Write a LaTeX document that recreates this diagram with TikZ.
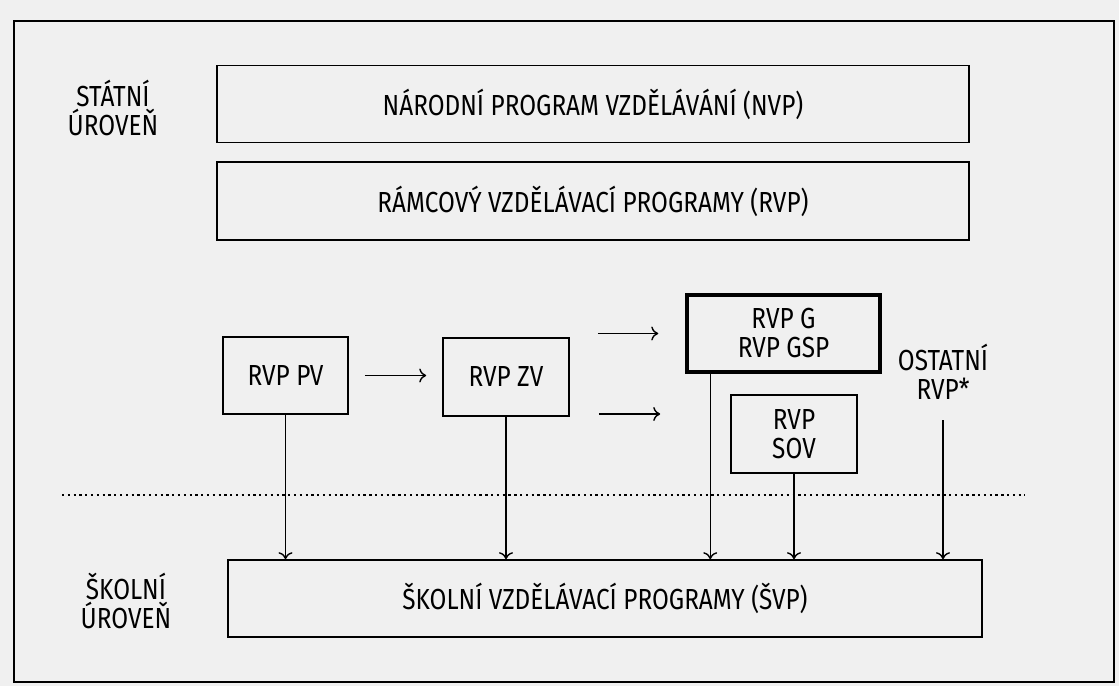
\documentclass[tikz,border=0pt]{standalone}
\usepackage{fontspec}
\setmainfont{Fira Sans}[FakeStretch=0.84]
\usetikzlibrary{arrows.meta}

\begin{document}
\begin{tikzpicture}[x=0.02cm,y=-0.02cm]

	\tikzset{box/.style = {shape=rectangle,draw,line width=0.9pt,align=center,inner sep=0pt,font=\fontsize{16.5}{16.5}\selectfont}}
	\tikzset{level/.style = {align=center,inner sep=0pt,font=\fontsize{16.5}{16.5}\selectfont}}
	\tikzset{edge/.style = {->,> = {To[length=4pt,width=8pt]},line width=0.8pt}}
	% paper and frame
	\fill[black!6] (0,0) rectangle (1119,686);
	\useasboundingbox (0,0) rectangle (1119,686);
	\draw[line width=0.9pt] (14,21) rectangle (1114,682);
	% levels
	\node[level] (state) at (113,108) {STÁTNÍ\\ÚROVEŇ};
	\node[level] (school) at (126,601) {ŠKOLNÍ\\ÚROVEŇ};
	% boxes
	\node[box,minimum width=15.04cm,minimum height=1.54cm] (nvp) at (593,104) {NÁRODNÍ PROGRAM VZDĚLÁVÁNÍ (NVP)};
	\node[box,minimum width=15.04cm,minimum height=1.56cm] (rvp) at (593,201) {RÁMCOVÝ VZDĚLÁVACÍ PROGRAMY (RVP)};
	\node[box,minimum width=2.5cm,minimum height=1.54cm] (pv) at (285.5,375.5) {RVP PV};
	\node[box,minimum width=2.52cm,minimum height=1.56cm] (zv) at (506,377) {RVP ZV};
	\node[box,line width=2pt,minimum width=3.86cm,minimum height=1.54cm] (g) at (783.5,333.5) {RVP G\\RVP GSP};
	\node[box,minimum width=2.52cm,minimum height=1.56cm] (sov) at (794,434) {RVP\\SOV};
	\node[level] (other) at (943,372) {OSTATNÍ\\RVP*};
	\node[box,minimum width=15.08cm,minimum height=1.54cm] (svp) at (605,598.5) {ŠKOLNÍ VZDĚLÁVACÍ PROGRAMY (ŠVP)};
	% border between levels
	\coordinate (dl) at (62,495);
	\coordinate (dr) at (1025,495);
	\draw[dotted,line width=1.3pt] (dl) -- (dr);
	%edges
	\draw[edge] ([xshift=0.32cm]pv.east) -- ([xshift=-0.32cm]pv.east -| zv.west);
	\draw[edge] ([xshift=0.56cm]zv.east |- g.west) -- ([xshift=-0.54cm]g.west);
	\draw[edge] ([xshift=0.58cm,yshift=0.4cm]zv.east |- sov.west) -- ([xshift=-1.4cm,yshift=0.4cm]sov.west);

	\draw[edge] (pv) -- (pv.south |- svp.north);
	\draw[edge] (zv) -- (zv.south |- svp.north);
	\draw[edge] ([xshift=0.5cm]g.south west) -- ([xshift=0.5cm]g.south west |- svp.north);
	\draw[edge] (sov) -- (sov.south |- svp.north);
	\draw[edge] ([yshift=-0.4cm]other.south) -- (other.south |- svp.north);
\end{tikzpicture}
\end{document}
